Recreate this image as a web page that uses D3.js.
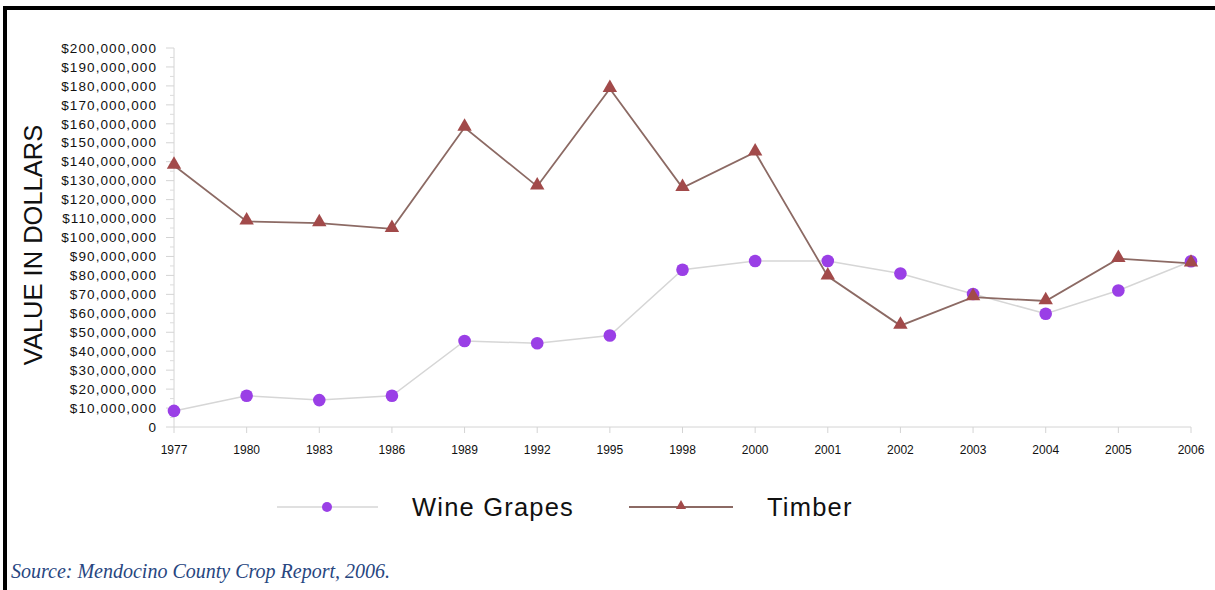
<!DOCTYPE html>
<html>
<head>
<meta charset="utf-8">
<script src="https://cdn.jsdelivr.net/npm/d3@7"></script>
<style>
    body { margin: 0; background: #fff; }
    svg { display: block; }
</style>
</head>
<body>
<svg id="chart"></svg>
<script>
const years = ["1977", "1980", "1983", "1986", "1989", "1992", "1995", "1998", "2000", "2001", "2002", "2003", "2004", "2005", "2006"];
const wineGrapes = [8.5, 16.5, 14.2, 16.5, 45.4, 44.2, 48.3, 83, 87.6, 87.6, 81, 70.2, 59.8, 72, 87.5].map(v => v * 1e6);
const timber = [138, 108.5, 107.6, 104.6, 158, 127, 178.5, 126.2, 145, 79.5, 53.5, 68.5, 66.5, 88.8, 86.3].map(v => v * 1e6);
const yTicks = d3.range(0, 200000001, 10000000);

const width = 1215;
const height = 590;
const svg = d3.select("#chart").attr("width", width).attr("height", height);

// frame lines top and left
svg.append("rect").attr("x", 3).attr("y", 6).attr("width", width - 3).attr("height", 4).attr("fill", "#000");
svg.append("rect").attr("x", 3).attr("y", 6).attr("width", 4).attr("height", height - 6).attr("fill", "#000");

const x = d3.scalePoint().domain(years).range([174, 1191]);
const y = d3.scaleLinear().domain([0, 200000000]).range([427, 48]);

const fmt = d => d === 0 ? "0" : "$" + d3.format(",")(d);

// y axis with minor ticks
const yAxis = svg.append("g").attr("transform", "translate(174,0)");
yAxis.append("line").attr("y1", y(200000000)).attr("y2", y(0)).attr("stroke", "#d4d4d4");
yAxis.selectAll(".minor")
    .data(d3.range(5000000, 200000000, 10000000))
    .enter().append("line")
    .attr("x1", -4).attr("x2", 0)
    .attr("y1", d => y(d)).attr("y2", d => y(d))
    .attr("stroke", "#dcdcdc");
yAxis.selectAll(".major")
    .data(yTicks)
    .enter().append("line")
    .attr("x1", -8).attr("x2", 0)
    .attr("y1", d => y(d)).attr("y2", d => y(d))
    .attr("stroke", "#d4d4d4");
yAxis.selectAll("text")
    .data(yTicks)
    .enter().append("text")
    .attr("x", -17)
    .attr("y", d => y(d))
    .attr("dy", "0.35em")
    .attr("text-anchor", "end")
    .attr("font-family", "Liberation Sans, Arial, sans-serif")
    .attr("font-size", 13.5)
    .attr("letter-spacing", 1.1)
    .attr("fill", "#111")
    .text(fmt);

// x axis
const xAxis = svg.append("g").attr("transform", `translate(0,${y(0)})`);
xAxis.append("line").attr("x1", 174).attr("x2", 1191).attr("stroke", "#d4d4d4");
xAxis.selectAll(".tick")
    .data(years)
    .enter().append("line")
    .attr("x1", d => x(d)).attr("x2", d => x(d))
    .attr("y1", 0).attr("y2", 6)
    .attr("stroke", "#d4d4d4");
xAxis.selectAll("text")
    .data(years)
    .enter().append("text")
    .attr("x", d => x(d))
    .attr("y", 27)
    .attr("text-anchor", "middle")
    .attr("font-family", "Liberation Sans, Arial, sans-serif")
    .attr("font-size", 12)
    .attr("fill", "#111")
    .text(d => d);

// axis title
svg.append("text")
    .attr("transform", "translate(42,245) rotate(-90)")
    .attr("text-anchor", "middle")
    .attr("font-family", "Liberation Sans, Arial, sans-serif")
    .attr("font-size", 25.5)
    .attr("fill", "#111")
    .text("VALUE IN DOLLARS");

const line = d3.line().x((d, i) => x(years[i])).y(d => y(d));
const wineColor = "#9a3fe6";
const timberColor = "#a24a4a";

svg.append("path").datum(wineGrapes)
    .attr("d", line).attr("fill", "none").attr("stroke", "#d6d6d6").attr("stroke-width", 1.5);
svg.append("path").datum(timber)
    .attr("d", line).attr("fill", "none").attr("stroke", "#8c6a64").attr("stroke-width", 1.8);

const tri = d3.symbol().type(d3.symbolTriangle).size(90);

svg.selectAll(".wine")
    .data(wineGrapes)
    .enter().append("circle")
    .attr("cx", (d, i) => x(years[i]))
    .attr("cy", d => y(d))
    .attr("r", 6.3)
    .attr("fill", wineColor);

svg.selectAll(".timber")
    .data(timber)
    .enter().append("path")
    .attr("d", tri)
    .attr("transform", (d, i) => `translate(${x(years[i])},${y(d) - 1})`)
    .attr("fill", timberColor);

// legend
const legend = svg.append("g").attr("font-family", "Liberation Sans, Arial, sans-serif");
legend.append("line").attr("x1", 277).attr("x2", 378).attr("y1", 507).attr("y2", 507).attr("stroke", "#d6d6d6").attr("stroke-width", 1.5);
legend.append("circle").attr("cx", 327).attr("cy", 507).attr("r", 5).attr("fill", wineColor);
legend.append("text").attr("x", 412).attr("y", 516).attr("font-size", 25.5).attr("letter-spacing", 1.2).attr("fill", "#111").text("Wine Grapes");
legend.append("line").attr("x1", 629).attr("x2", 733).attr("y1", 507).attr("y2", 507).attr("stroke", "#8c6a64").attr("stroke-width", 1.8);
legend.append("path").attr("d", d3.symbol().type(d3.symbolTriangle).size(45)).attr("transform", "translate(681,506)").attr("fill", timberColor);
legend.append("text").attr("x", 767).attr("y", 516).attr("font-size", 25.5).attr("letter-spacing", 1.2).attr("fill", "#111").text("Timber");

// source note
svg.append("text")
    .attr("x", 11)
    .attr("y", 578)
    .attr("font-family", "Liberation Serif, Times New Roman, serif")
    .attr("font-style", "italic")
    .attr("font-size", 20)
    .attr("fill", "#27467f")
    .text("Source: Mendocino County Crop Report, 2006.");
</script>
</body>
</html>
